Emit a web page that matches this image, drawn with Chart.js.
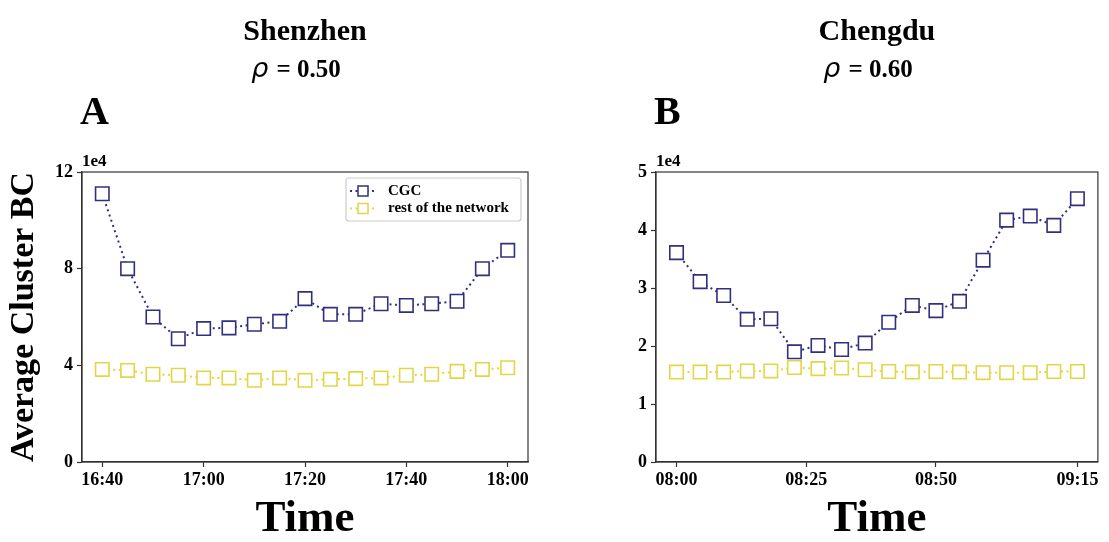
<!DOCTYPE html>
<html>
<head>
<meta charset="utf-8">
<script src="https://cdn.jsdelivr.net/npm/chart.js@4.4.1/dist/chart.umd.min.js"></script>
<style>
  html, body { margin: 0; padding: 0; background: #fff; }
  #wrap { position: relative; width: 1109px; height: 542px; }
  .panel { position: absolute; top: 0; height: 542px; }
  #panel-a { left: 0; width: 554px; }
  #panel-b { left: 554px; width: 555px; }
</style>
</head>
<body>
<div id="wrap">
  <div class="panel" id="panel-a"><canvas id="chart-a"></canvas></div>
  <div class="panel" id="panel-b"><canvas id="chart-b"></canvas></div>
</div>
<script>
const SERIF = "'Liberation Serif', 'Times New Roman', serif";
const CGC_COLOR  = '#30307f';
const REST_COLOR = '#e3d545';
const AXIS_COLOR = '#333333';

const seriesNames = ['CGC', 'rest of the network'];

// Shenzhen (values in units of 1e4), one point every 5 min, 16:40 -> 18:00
const szCGC  = [11.10, 8.00, 6.00, 5.10, 5.52, 5.55, 5.70, 5.82, 6.76, 6.11, 6.11, 6.55, 6.48, 6.55, 6.65, 8.00, 8.76];
const szRest = [3.83, 3.79, 3.63, 3.59, 3.48, 3.48, 3.38, 3.48, 3.38, 3.42, 3.45, 3.48, 3.59, 3.63, 3.75, 3.83, 3.90];
const szTickPos    = [0, 4, 8, 12, 16];
const szTickLabels = ['16:40', '17:00', '17:20', '17:40', '18:00'];

// Chengdu (values in units of 1e4)
const cdCGC  = [3.61, 3.11, 2.87, 2.46, 2.47, 1.90, 2.01, 1.94, 2.05, 2.41, 2.70, 2.61, 2.77, 3.48, 4.17, 4.24, 4.08, 4.54];
const cdRest = [1.55, 1.55, 1.55, 1.57, 1.57, 1.63, 1.61, 1.62, 1.59, 1.56, 1.55, 1.56, 1.55, 1.54, 1.54, 1.54, 1.56, 1.56];
const cdTickPos    = [0, 5.5, 11, 17];
const cdTickLabels = ['08:00', '08:25', '08:50', '09:15'];

// header texts, frame round the plot, the "1e4" offset label and the boxed legend
const panelDecor = {
  id: 'panelDecor',
  afterDraw(chart, args, opts) {
    const { ctx, chartArea: a } = chart;
    const cx = (a.left + a.right) / 2;
    ctx.save();
    ctx.fillStyle = '#000';
    ctx.textBaseline = 'alphabetic';

    ctx.font = `bold 30px ${SERIF}`;
    ctx.textAlign = 'center';
    ctx.fillText(opts.title, cx, 40);

    // rho line: italic rho + bold value
    const rhoFont = "italic 27px 'DejaVu Sans', sans-serif";
    const valFont = `bold 25px ${SERIF}`;
    const valText = ' = ' + opts.rho;
    ctx.font = rhoFont;
    const wRho = ctx.measureText('ρ').width;
    ctx.font = valFont;
    const wVal = ctx.measureText(valText).width;
    const x0 = cx - 10 - (wRho + wVal) / 2;
    ctx.textAlign = 'left';
    ctx.font = rhoFont;
    ctx.fillText('ρ', x0, 77);
    ctx.font = valFont;
    ctx.fillText(valText, x0 + wRho + 2, 77);

    ctx.font = `bold 40px ${SERIF}`;
    ctx.fillText(opts.letter, a.left - 2, 124);

    ctx.font = `bold 17px ${SERIF}`;
    ctx.fillText('1e4', a.left, 166);

    ctx.strokeStyle = AXIS_COLOR;
    ctx.lineWidth = 1.2;
    ctx.strokeRect(a.left, a.top, a.right - a.left, a.bottom - a.top);

    if (opts.legend) {
      const bw = 175, bh = 43;
      const bx = a.right - bw - 7, by = a.top + 6;
      ctx.fillStyle = 'rgba(255,255,255,0.85)';
      ctx.strokeStyle = '#cccccc';
      ctx.lineWidth = 1.2;
      ctx.beginPath();
      ctx.roundRect(bx, by, bw, bh, 3);
      ctx.fill();
      ctx.stroke();
      chart.data.datasets.forEach((ds, i) => {
        const yy = by + 13 + i * 17.5;
        ctx.strokeStyle = ds.borderColor;
        ctx.lineWidth = 2;
        ctx.setLineDash([2, 3.5]);
        ctx.beginPath();
        ctx.moveTo(bx + 4, yy);
        ctx.lineTo(bx + 30, yy);
        ctx.stroke();
        ctx.setLineDash([]);
        ctx.fillStyle = '#fff';
        ctx.lineWidth = 1.5;
        ctx.fillRect(bx + 12, yy - 5, 10, 10);
        ctx.strokeRect(bx + 12, yy - 5, 10, 10);
        ctx.fillStyle = '#000';
        ctx.font = `bold 15px ${SERIF}`;
        ctx.textAlign = 'left';
        ctx.textBaseline = 'middle';
        ctx.fillText(ds.label, bx + 42, yy);
      });
    }
    ctx.restore();
  }
};

function makeDataset(label, values, color) {
  return {
    label,
    data: values.map((v, i) => ({ x: i, y: v })),
    borderColor: color,
    borderWidth: 2,
    borderDash: [2, 3.5],
    tension: 0,
    pointStyle: 'rect',
    pointRadius: 9.5,
    pointBorderWidth: 1.6,
    pointBorderColor: color,
    pointBackgroundColor: '#ffffff',
    clip: false,
  };
}

function makeChart(canvasId, cfg) {
  const tickFont = { family: SERIF, size: 18, weight: 'bold' };
  const tickGrid = { display: true, drawOnChartArea: false, drawTicks: true, tickLength: 5, tickColor: AXIS_COLOR, tickWidth: 1.2 };
  return new Chart(document.getElementById(canvasId), {
    type: 'line',
    data: {
      datasets: [
        makeDataset(seriesNames[0], cfg.cgc, CGC_COLOR),
        makeDataset(seriesNames[1], cfg.rest, REST_COLOR),
      ]
    },
    options: {
      responsive: true, maintainAspectRatio: false, animation: false,
      layout: { padding: { top: 172, right: cfg.padRight, bottom: 0, left: 0 } },
      plugins: {
        legend: { display: false },
        tooltip: { enabled: false },
        panelDecor: { title: cfg.title, rho: cfg.rho, letter: cfg.letter, legend: cfg.legend },
      },
      scales: {
        x: {
          type: 'linear', min: cfg.xMin, max: cfg.xMax,
          afterBuildTicks: s => { s.ticks = cfg.tickPos.map(v => ({ value: v })); },
          afterFit: s => { s.height = 80; },
          ticks: { font: tickFont, color: '#000', padding: 3, maxRotation: 0, autoSkip: false,
                   callback: (v, i) => cfg.tickLabels[i] },
          grid: tickGrid,
          border: { display: true, color: AXIS_COLOR, width: 1.2 },
          title: { display: true, text: 'Time', color: '#000', padding: 0,
                   font: { family: SERIF, size: 45, weight: 'bold', lineHeight: 1 } },
        },
        y: {
          min: 0, max: cfg.yMax,
          afterFit: s => { s.width = cfg.yWidth; },
          ticks: { stepSize: cfg.yStep, font: tickFont, color: '#000', padding: 4 },
          grid: tickGrid,
          border: { display: true, color: AXIS_COLOR, width: 1.2 },
          title: { display: cfg.yTitle, text: 'Average Cluster BC', color: '#000', padding: { top: 4, bottom: 0 },
                   font: { family: SERIF, size: 34, weight: 'bold' } },
        }
      }
    },
    plugins: [panelDecor]
  });
}

makeChart('chart-a', {
  title: 'Shenzhen', rho: '0.50', letter: 'A', legend: true, yTitle: true,
  cgc: szCGC, rest: szRest, tickPos: szTickPos, tickLabels: szTickLabels,
  xMin: -0.8, xMax: 16.8, yMax: 12, yStep: 4, yWidth: 82, padRight: 26,
});

makeChart('chart-b', {
  title: 'Chengdu', rho: '0.60', letter: 'B', legend: false, yTitle: false,
  cgc: cdCGC, rest: cdRest, tickPos: cdTickPos, tickLabels: cdTickLabels,
  xMin: -0.87, xMax: 17.87, yMax: 5, yStep: 1, yWidth: 102, padRight: 5,
});
</script>
</body>
</html>
